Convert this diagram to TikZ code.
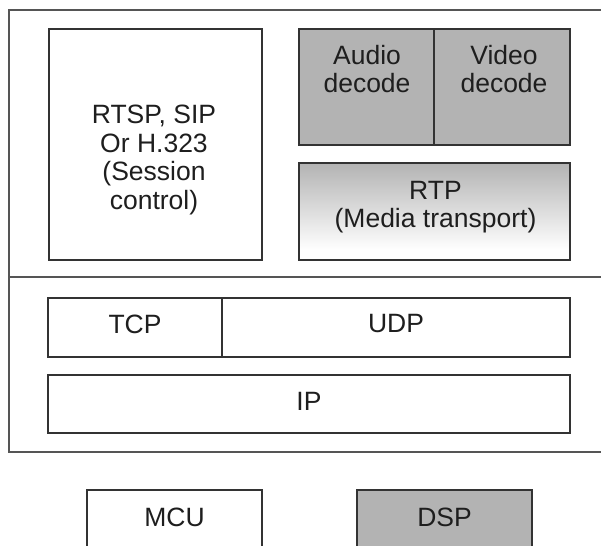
\documentclass[tikz,border=0pt]{standalone}
\usepackage{fontspec}
\setmainfont{Liberation Sans}
\definecolor{linec}{HTML}{333333}
\definecolor{outerc}{HTML}{555555}
\definecolor{boxgray}{HTML}{B3B3B3}
\definecolor{txtc}{HTML}{1E1E1E}
\pgfdeclareverticalshading{rtpshade}{100bp}{color(0bp)=(white); color(30bp)=(white); color(75bp)=(boxgray); color(100bp)=(boxgray)}
\tikzset{
  boxline/.style={draw=linec, line width=1.6pt},
  grayfill/.style={boxline, fill=boxgray},
  outerline/.style={draw=outerc, line width=1.8pt},
  lbl/.style={inner sep=0pt, align=center, text=txtc, font=\fontsize{26.5}{28.5}\selectfont}
}
\begin{document}
\begin{tikzpicture}[x=1pt, y=-1pt]
\useasboundingbox (0,0) rectangle (601,545);
\clip (0,0) rectangle (601,545);
\fill[white] (0,0) rectangle (601,545);
% outer frame
\path[outerline] (9,10) rectangle (640,452);
\path[outerline] (9,277) -- (640,277);
% session control
\path[boxline] (49,29) rectangle (262,260);
\node[lbl] (rtsp) at (154,160) {RTSP, SIP\\Or H.323\\(Session\\control)};
% decoders
\path[grayfill] (299,29) rectangle (434,145);
\path[grayfill] (434,29) rectangle (570,145);
\node[lbl] (audio) at (367,69) {Audio\\decode};
\node[lbl] (video) at (504,69) {Video\\decode};
% RTP
\path[boxline, shading=rtpshade] (299,163) rectangle (570,260);
\path[boxline] (299,163) rectangle (570,260);
\node[lbl] (rtp) at (435.5,207) {RTP\\(Media transport)};
% TCP / UDP
\path[boxline] (48,298) rectangle (222,357);
\path[boxline] (222,298) rectangle (570,357);
\node[lbl] (tcp) at (135,324) {TCP};
\node[lbl] (udp) at (396,324) {UDP};
% IP
\path[boxline] (48,375) rectangle (570,433);
\node[lbl] (ip) at (309,401) {IP};
% MCU / DSP
\path[boxline] (87,490) rectangle (262,580);
\node[lbl] (mcu) at (174.5,517) {MCU};
\path[grayfill] (357,490) rectangle (532,580);
\node[lbl] (dsp) at (444.5,517) {DSP};
\end{tikzpicture}
\end{document}
